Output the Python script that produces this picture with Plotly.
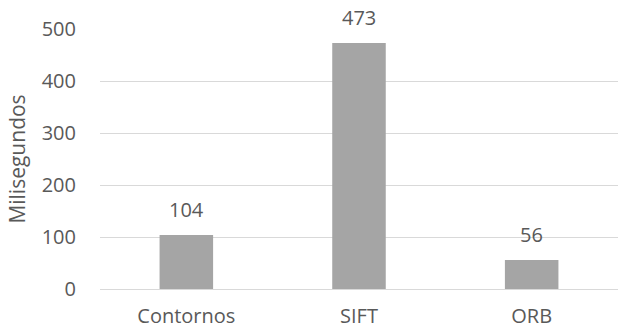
import plotly.graph_objects as go

categories = ["Contornos", "SIFT", "ORB"]
values = [104, 473, 56]
y_ticks = [0, 100, 200, 300, 400, 500]

FONT = "Open Sans"
TXT = "#595959"

fig = go.Figure()
fig.add_trace(go.Bar(x=categories, y=values, marker=dict(color="#A5A5A5", line=dict(width=0)),
                     hoverinfo="skip"))
for c, v in zip(categories, values):
    fig.add_annotation(x=c, y=v, text=str(v), showarrow=False, yanchor="bottom", yshift=10,
                       font=dict(family=FONT, size=20, color=TXT))

fig.update_layout(
    width=618, height=329,
    margin=dict(l=100, r=0, t=29, b=40),
    paper_bgcolor="white", plot_bgcolor="white",
    bargap=0.69, showlegend=False,
    font=dict(family=FONT, size=20, color=TXT),
)
fig.update_yaxes(range=[0, 500], tickvals=y_ticks, showgrid=True, gridcolor="#D9D9D9", gridwidth=1,
                 zeroline=False, showline=False, ticks="outside", ticklen=19,
                 tickcolor="rgba(0,0,0,0)",
                 title=dict(text="Milisegundos", font=dict(family=FONT, size=21, color=TXT), standoff=10),
                 tickfont=dict(family=FONT, size=20, color=TXT))
fig.update_yaxes(automargin=False)
fig.update_xaxes(showline=True, linecolor="#D9D9D9", linewidth=1, ticks="outside", ticklen=9,
                 tickcolor="rgba(0,0,0,0)", tickfont=dict(family=FONT, size=20, color=TXT),
                 automargin=False)

fig.write_html("out.html")
